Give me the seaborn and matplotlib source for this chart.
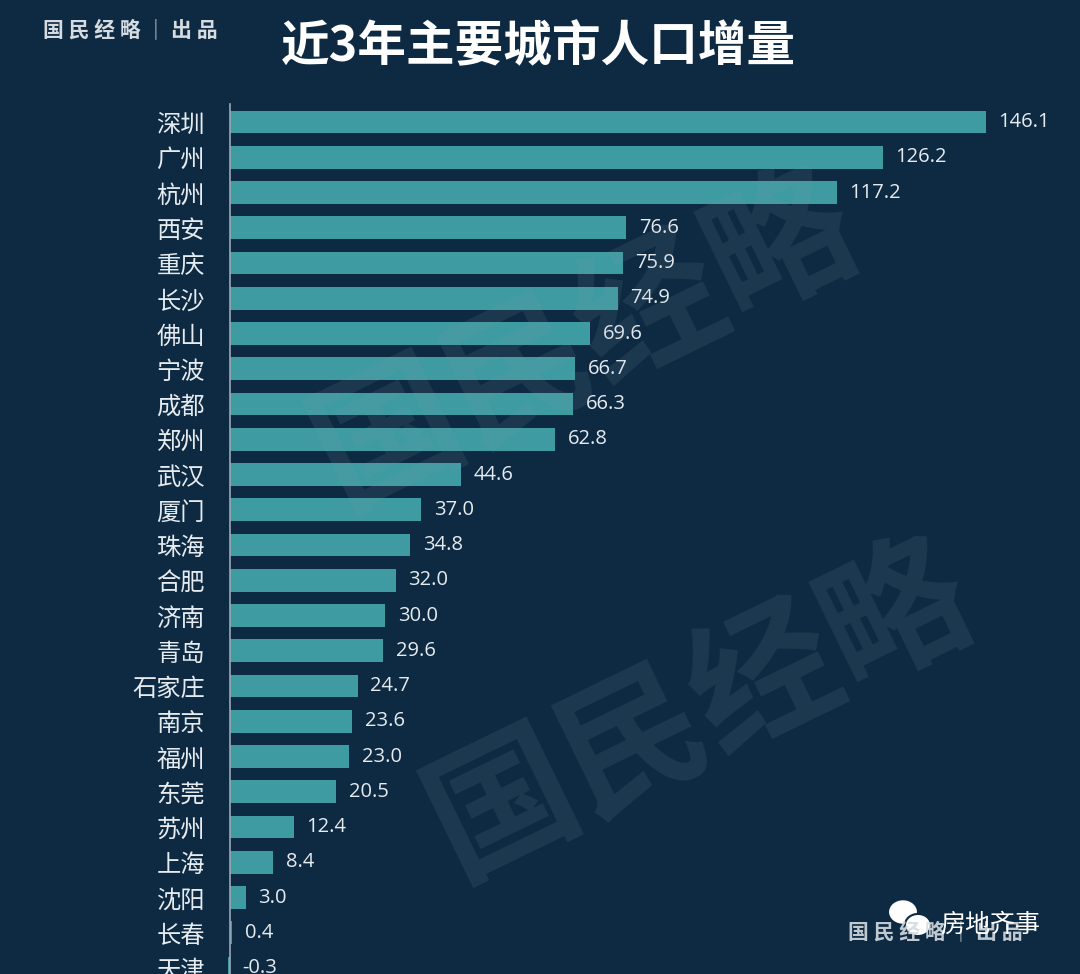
import matplotlib
matplotlib.use("Agg")
import matplotlib.pyplot as plt
from matplotlib.patches import Ellipse
import seaborn as sns
import pandas as pd

# data
cities = ["深圳", "广州", "杭州", "西安", "重庆", "长沙", "佛山", "宁波", "成都", "郑州",
          "武汉", "厦门", "珠海", "合肥", "济南", "青岛", "石家庄", "南京", "福州", "东莞",
          "苏州", "上海", "沈阳", "长春", "天津"]
increase = [146.1, 126.2, 117.2, 76.6, 75.9, 74.9, 69.6, 66.7, 66.3, 62.8,
            44.6, 37.0, 34.8, 32.0, 30.0, 29.6, 24.7, 23.6, 23.0, 20.5,
            12.4, 8.4, 3.0, 0.4, -0.3]
title = "近3年主要城市人口增量"
brand = "国 民 经 略 │ 出 品"

BG = "#0d2a42"
BAR = "#3d9ba1"
TXT = "#e6ebef"

sns.set_theme(style="dark")
plt.rcParams["font.family"] = ["Noto Sans CJK SC", "DejaVu Sans"]

df = pd.DataFrame({"city": cities, "value": increase})

W, H = 1080, 974
fig = plt.figure(figsize=(W / 100, H / 100), dpi=100, facecolor=BG)

# axes: x=0 at 230 px, 5.175 px per unit; row 0 centred at y=122 px, rows 35.25 px apart
px_per_unit = 5.175
left_px = 230
xmax = (W - left_px) / px_per_unit
row_h = 35.25
top_px = 122 - row_h / 2
ax = fig.add_axes([left_px / W, 0, (W - left_px) / W, (H - top_px) / H])
ax.set_facecolor(BG)

sns.barplot(data=df, x="value", y="city", color=BAR, orient="h",
            width=0.64, saturation=1, ax=ax)
for p in ax.patches:
    p.set_clip_on(False)
    p.set_edgecolor("none")

ax.set_xlim(0, xmax)
ax.set_ylim(-0.5 + (H - top_px) / row_h, -0.5)

for i, v in enumerate(increase):
    ax.annotate(f"{v:.1f}", xy=(max(v, 0), i), xytext=(9, 0), textcoords="offset points",
                va="center", ha="left", color=TXT, fontsize=14.5, family=["Open Sans"],
                annotation_clip=False)

ax.set_xlabel("")
ax.set_ylabel("")
ax.set_xticks([])
ax.tick_params(axis="y", length=0, pad=18, labelsize=17.5, labelcolor=TXT)
for s in ["top", "right", "bottom"]:
    ax.spines[s].set_visible(False)
ax.spines["left"].set_visible(True)
ax.spines["left"].set_color("#9aa8b4")
ax.spines["left"].set_linewidth(1.2)
ax.grid(False)

# title and brand
fig.text(538 / W, 1 - 47 / H, title, ha="center", va="center", color="white",
         fontsize=35, fontweight="bold")
fig.text(130 / W, 1 - 30 / H, brand, ha="center", va="center", color="#d5dbe1",
         fontsize=15, fontweight="bold")

# faint diagonal watermarks
for (x, y) in [(585, 340), (700, 710)]:
    fig.text(x / W, 1 - y / H, "国民经略", ha="center", va="center", rotation=26,
             color="#8fa3b5", alpha=0.12, fontsize=105, fontweight="bold")

# bottom-right brand with the account overlay
fig.text(935 / W, 1 - 932 / H, brand, ha="center", va="center", color="#d5dbe1",
         fontsize=15, fontweight="bold", alpha=0.9)
for (cx, cy, r) in [(903, 912, 15), (918, 925, 13)]:
    fig.patches.append(Ellipse((cx / W, 1 - cy / H), 2 * r / W, 1.7 * r / H,
                               transform=fig.transFigure, facecolor="white",
                               edgecolor=BG, linewidth=1.5))
fig.text(990 / W, 1 - 925 / H, "房地齐事", ha="center", va="center", color="white",
         fontsize=18)

fig.savefig("out.png", dpi=100, facecolor=BG)
